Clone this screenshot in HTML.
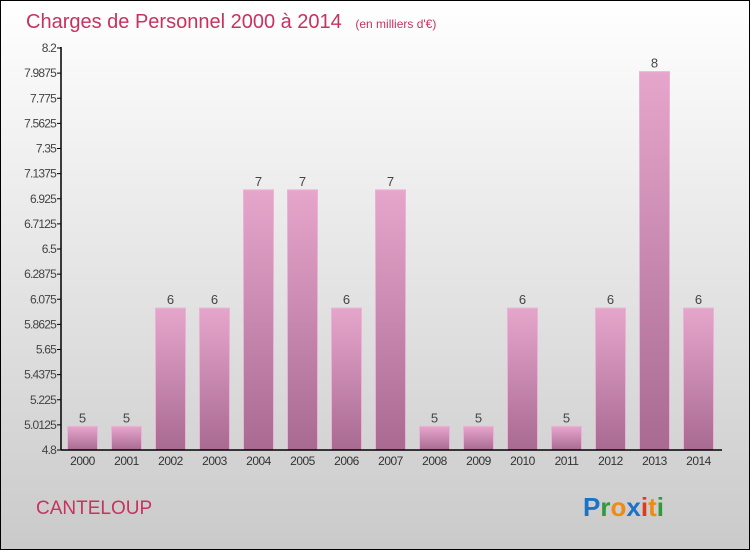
<!DOCTYPE html>
<html><head><meta charset="utf-8"><style>
body{margin:0;width:750px;height:550px;overflow:hidden;font-family:"Liberation Sans",sans-serif}
</style></head><body>
<svg width="750" height="550" xmlns="http://www.w3.org/2000/svg">
<defs>
<linearGradient id="bg" x1="0" y1="0" x2="0" y2="1"><stop offset="0" stop-color="#ffffff"/><stop offset="1" stop-color="#cacaca"/></linearGradient>
<linearGradient id="bar" x1="0" y1="0" x2="0" y2="1"><stop offset="0" stop-color="#e6a6cc"/><stop offset="1" stop-color="#a96a92"/></linearGradient>
</defs>
<rect x="0.5" y="0.5" width="749" height="549" fill="url(#bg)" stroke="#000"/>
<text x="26" y="28" font-size="20" fill="#c8325f">Charges de Personnel 2000 à 2014 <tspan font-size="12" dx="8">(en milliers d'€)</tspan></text>
<g id="plot"></g>
<text x="36" y="514" font-size="19" fill="#c8325f">CANTELOUP</text>
<text x="583" y="516" font-size="26" font-weight="bold"><tspan fill="#1a73c8">P</tspan><tspan fill="#2e9a3a">r</tspan><tspan fill="#f08a10">o</tspan><tspan fill="#1a73c8">x</tspan><tspan fill="#e03a1a">i</tspan><tspan fill="#f08a10">t</tspan><tspan fill="#2e9a3a">i</tspan></text>
</svg>
<script>
const years=["2000","2001","2002","2003","2004","2005","2006","2007","2008","2009","2010","2011","2012","2013","2014"];
const values=[5,5,6,6,7,7,6,7,5,5,6,5,6,8,6];
const ticks=["8.2","7.9875","7.775","7.5625","7.35","7.1375","6.925","6.7125","6.5","6.2875","6.075","5.8625","5.65","5.4375","5.225","5.0125","4.8"];
const yMin=4.8,yMax=8.2,plotTop=48,plotBot=450,plotLeft=61;
const yS=v=>plotBot-(v-yMin)/(yMax-yMin)*(plotBot-plotTop);
const xS=i=>82.5+i*44;
const g=document.getElementById('plot');
const NS="http://www.w3.org/2000/svg";
function mk(t,a,txt){const e=document.createElementNS(NS,t);for(const k in a)e.setAttribute(k,a[k]);if(txt!==undefined)e.textContent=txt;g.appendChild(e);return e;}
ticks.forEach(t=>{const v=parseFloat(t),yy=yS(v);
const l=mk('line',{x1:plotLeft-4,x2:plotLeft,y1:yy,y2:yy,stroke:'#000'});


const tx=mk('text',{x:plotLeft-5,y:yy+4,'text-anchor':'end','font-size':12,fill:'#444','letter-spacing':'-0.8'},t);

});
values.forEach((v,i)=>{const yy=yS(v);
const r=mk('rect',{x:xS(i)-15,y:yy,width:30,height:plotBot-yy,fill:'url(#bar)',stroke:'#e8b4d4','stroke-width':1});


const vl=mk('text',{x:xS(i),y:yy-4,'text-anchor':'middle','font-size':13,fill:'#444'},String(v));


const xl=mk('text',{x:xS(i),y:plotBot+15,'text-anchor':'middle','font-size':12,fill:'#333','letter-spacing':'-0.5'},years[i]);

});
const ya=mk('line',{x1:plotLeft,x2:plotLeft,y1:plotTop-1,y2:plotBot,stroke:'#000','stroke-width':1.5});


const xa=mk('line',{x1:plotLeft,x2:722,y1:plotBot,y2:plotBot,stroke:'#000','stroke-width':1.5});


</script>
</body></html>
